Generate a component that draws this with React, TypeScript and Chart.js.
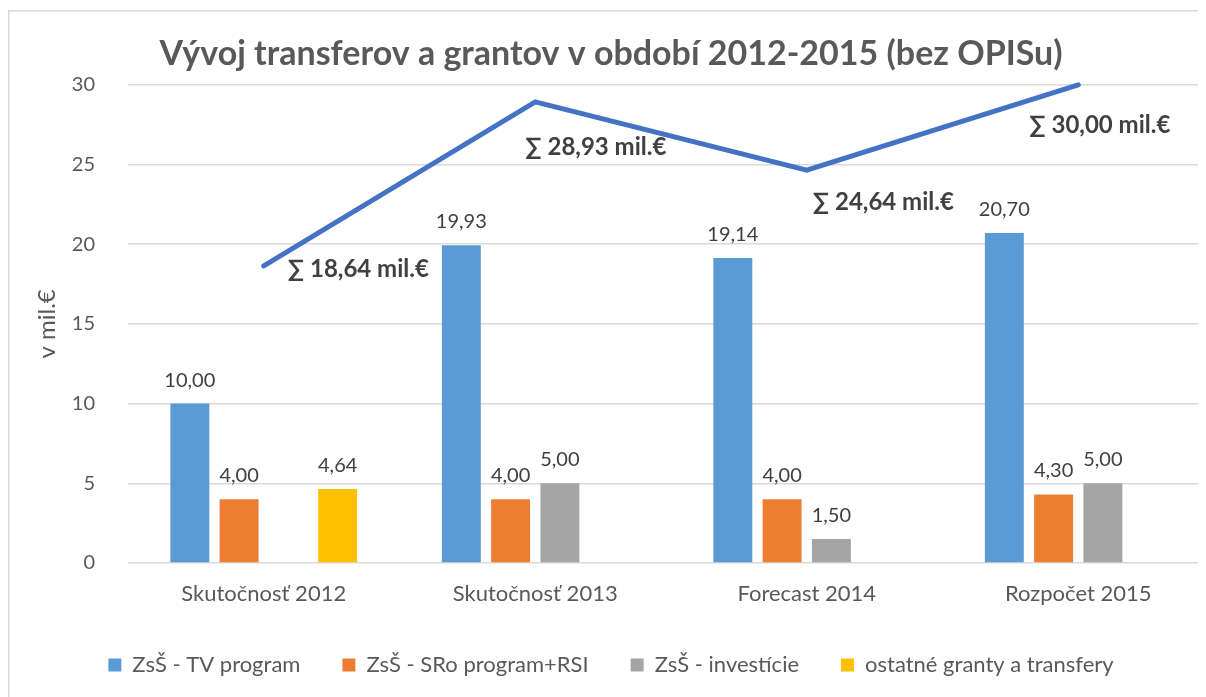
import React, { useEffect, useRef } from "react";
import { Chart, registerables } from "chart.js";

Chart.register(...registerables);

const categories = ["Skutočnosť 2012", "Skutočnosť 2013", "Forecast 2014", "Rozpočet 2015"];
const seriesNames = ["ZsŠ - TV program", "ZsŠ - SRo program+RSI", "ZsŠ - investície", "ostatné granty a transfery"];
const tvProgram: (number | null)[] = [10.0, 19.93, 19.14, 20.7];
const sroProgram: (number | null)[] = [4.0, 4.0, 4.0, 4.3];
const investicie: (number | null)[] = [null, 5.0, 1.5, 5.0];
const ostatne: (number | null)[] = [4.64, null, null, null];
const totals: number[] = [18.64, 28.93, 24.64, 30.0];
const seriesColors = ["#5B9BD5", "#ED7D31", "#A5A5A5", "#FFC000"];
const lineColor = "#4472C4";
const yMin = 0;
const yMax = 30;
const yStep = 5;

const titleText = "Vývoj transferov a grantov v období 2012-2015 (bez OPISu)";
const yTitle = "v mil.€";
const FONT = "Lato, 'Open Sans', sans-serif";

const fmt = (v: number) => v.toFixed(2).replace(".", ",");

const W = 1212;
const H = 689;

const framePlugin = {
  id: "frame",
  beforeDraw(chart: any) {
    const ctx = chart.ctx;
    ctx.save();
    ctx.fillStyle = "#ffffff";
    ctx.fillRect(0, 0, chart.width, chart.height);
    ctx.strokeStyle = "#d9d9d9";
    ctx.lineWidth = 1.5;
    ctx.strokeRect(0.75, 2.75, chart.width + 20, chart.height + 20);
    ctx.restore();
  },
};

const barLabelPlugin = {
  id: "barLabels",
  afterDatasetsDraw(chart: any, _args: any, opts: any) {
    const ctx = chart.ctx;
    ctx.save();
    ctx.font = `20px ${FONT}`;
    ctx.fillStyle = "#404040";
    ctx.textAlign = "center";
    ctx.textBaseline = "alphabetic";
    chart.data.datasets.forEach((ds: any, di: number) => {
      if (ds.type === "line") return;
      const meta = chart.getDatasetMeta(di);
      meta.data.forEach((el: any, i: number) => {
        const v = ds.data[i];
        if (v === null || v === undefined) return;
        ctx.fillText(fmt(v), el.x, el.y - opts.gap);
      });
    });
    ctx.restore();
  },
};

const sumLabelPlugin = {
  id: "sumLabels",
  afterDatasetsDraw(chart: any, _args: any, opts: any) {
    const ctx = chart.ctx;
    ctx.save();
    ctx.font = `bold 24px ${FONT}`;
    ctx.fillStyle = "#404040";
    ctx.textAlign = "left";
    ctx.textBaseline = "middle";
    chart.data.datasets.forEach((ds: any, di: number) => {
      if (ds.type !== "line") return;
      const meta = chart.getDatasetMeta(di);
      meta.data.forEach((el: any, i: number) => {
        const v = ds.data[i];
        const off = opts.offsets[i] || [0, 0];
        ctx.fillText(`∑ ${fmt(v)} mil.€`, el.x + off[0], el.y + off[1]);
      });
    });
    ctx.restore();
  },
};

export default function App() {
  const ref = useRef<HTMLCanvasElement | null>(null);

  useEffect(() => {
    document.body.style.overflow = "hidden";
    document.documentElement.style.overflow = "hidden";
    const canvas = ref.current;
    if (!canvas) return;
    const barSeries = [tvProgram, sroProgram, investicie, ostatne];
    const chart = new Chart(canvas, {
      type: "bar",
      data: {
        labels: categories,
        datasets: [
          ...barSeries.map((d, i) => ({
            type: "bar" as const,
            label: seriesNames[i],
            data: d,
            backgroundColor: seriesColors[i],
            borderWidth: 0,
            order: 1,
          })),
          {
            type: "line" as const,
            label: "∑",
            data: totals,
            borderColor: lineColor,
            backgroundColor: lineColor,
            borderWidth: 5,
            pointRadius: 0,
            pointHoverRadius: 0,
            tension: 0,
            borderCapStyle: "round",
            borderJoinStyle: "miter",
            clip: false,
            order: 0,
          } as any,
        ],
      },
      options: {
        animation: false,
        responsive: false,
        devicePixelRatio: 1,
        datasets: {
          bar: { categoryPercentage: 0.726, barPercentage: 0.79 },
        },
        layout: { padding: { top: 0, left: 0, right: 6, bottom: 11 } },
        scales: {
          x: {
            offset: true,
            grid: { display: false, drawTicks: false },
            border: { display: false },
            ticks: {
              padding: 18,
              color: "#595959",
              font: { family: FONT, size: 22 },
            },
            afterFit: (s: any) => {
              s.height = 49;
            },
          },
          y: {
            min: yMin,
            max: yMax,
            ticks: {
              stepSize: yStep,
              padding: 33,
              color: "#595959",
              font: { family: FONT, size: 20 },
            },
            grid: { color: "#d9d9d9", lineWidth: 1.5, drawTicks: false },
            border: { display: false },
            title: {
              display: true,
              text: yTitle,
              color: "#595959",
              font: { family: FONT, size: 24 },
              padding: { top: 25, bottom: 0 },
            },
            afterFit: (s: any) => {
              s.width = 120;
            },
          },
        },
        plugins: {
          title: {
            display: true,
            text: titleText,
            color: "#595959",
            font: { family: FONT, size: 34, weight: "bold" },
            padding: { top: 26, bottom: 10 },
          },
          legend: {
            position: "bottom",
            labels: {
              boxWidth: 13,
              boxHeight: 13,
              padding: 42,
              color: "#595959",
              font: { family: FONT, size: 22 },
              filter: (item: any) => item.datasetIndex < 4,
            },
          },
          tooltip: { enabled: false },
          barLabels: { gap: 17 },
          sumLabels: { offsets: [[24, 3], [-10, 45], [6, 32], [-49, 40]] },
        } as any,
      },
      plugins: [framePlugin, barLabelPlugin, sumLabelPlugin],
    });
    return () => chart.destroy();
  }, []);

  return (
    <div style={{ width: 1198, height: 689, overflow: "hidden", position: "relative" }}>
      <canvas ref={ref} width={W} height={H} style={{ width: W, height: H, display: "block" }} />
    </div>
  );
}
